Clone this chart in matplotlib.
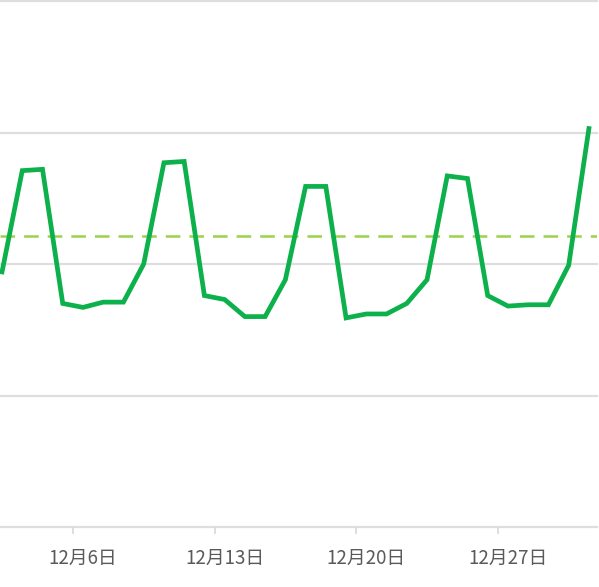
import matplotlib
matplotlib.use("Agg")
import matplotlib.pyplot as plt

plt.rcParams['font.family'] = ['Noto Sans CJK SC', 'DejaVu Sans']
plt.rcParams['lines.scale_dashes'] = False

# ====== DATA =======
days = list(range(2, 32))
values = [194, 271, 272, 170, 167, 171, 171, 200, 277, 278,
          176, 173, 160, 160, 188, 259, 259, 159, 162, 162,
          170, 188, 267, 265, 176, 168, 169, 169, 199, 303]
avg_value = 221
label_days = [6, 13, 20, 27]
tick_labels = ["12月6日", "12月13日", "12月20日", "12月27日"]
grid_values = [0, 100, 200, 300, 400]

# ====== PLOT =======
W, H = 599, 587
fig = plt.figure(figsize=(W / 100, H / 100), dpi=100)
fig.patch.set_facecolor("white")
ax = fig.add_axes([0, (H - 527) / H, 597 / W, 526 / H])
ax.set_facecolor("white")

ax.set_xlim(1.9, 31.4)
ax.set_ylim(0, 400)

for g in grid_values:
    ax.axhline(g, color="#dedede", linewidth=1.6, zorder=1, clip_on=False)

ax.axhline(avg_value, color="#9bd24a", linewidth=1.8, dashes=(10.5, 6.5), zorder=2)
ax.plot(days, values, color="#0db14b", linewidth=3.4, solid_joinstyle="miter",
        zorder=3, clip_on=True)

for s in ax.spines.values():
    s.set_visible(False)

ax.set_yticks([])
# ticks sit on category boundaries, labels on category centres
ax.set_xticks([d - 0.5 for d in label_days])
ax.set_xticklabels([])
ax.tick_params(axis="x", length=5, width=1.2, color="#d8d8d8", direction="out")
ax.set_xticks(label_days, minor=True)
ax.set_xticklabels(tick_labels, minor=True)
ax.tick_params(axis="x", which="minor", length=0, pad=15, labelsize=13.5,
               labelcolor="#5a5a5a")

fig.savefig("out.png", dpi=100)
